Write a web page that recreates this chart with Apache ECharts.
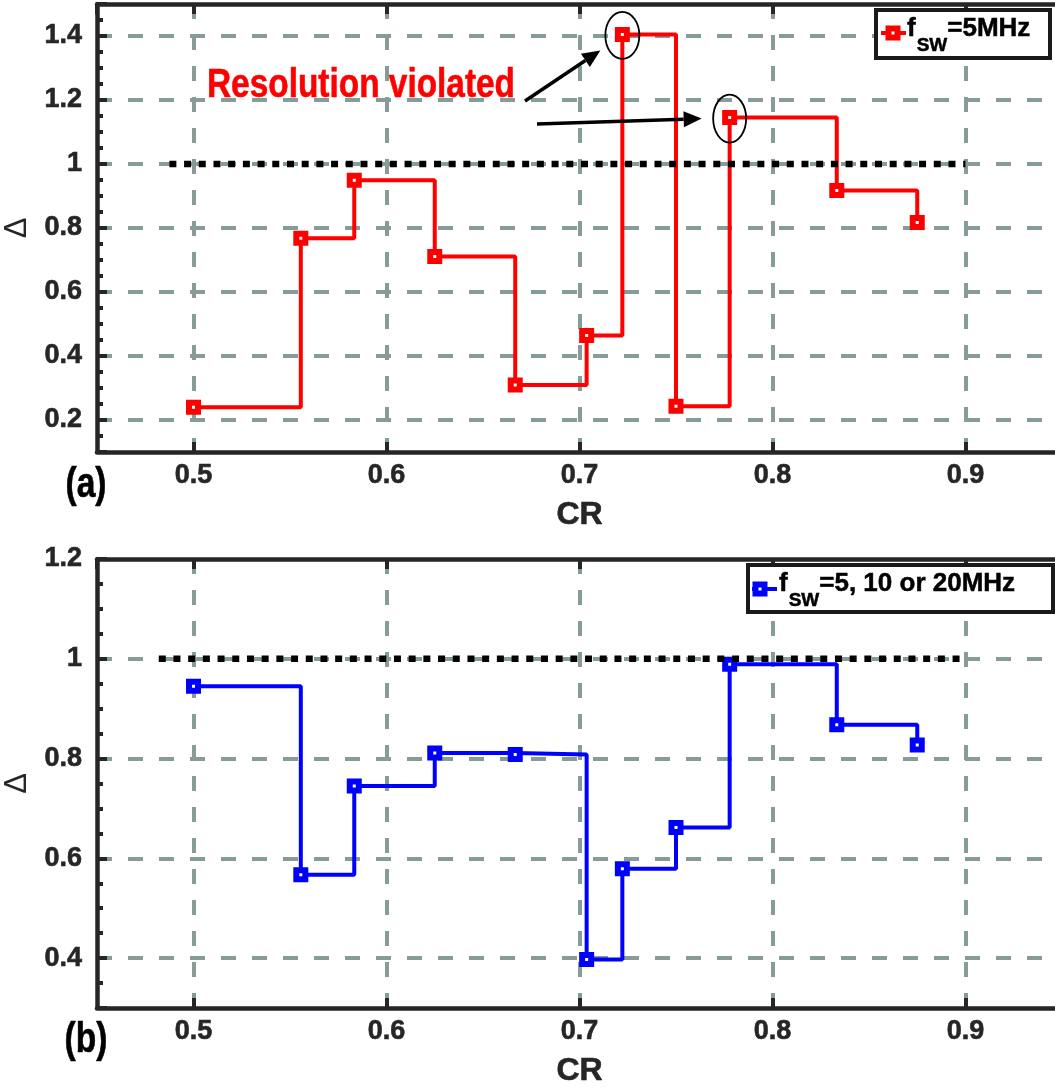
<!DOCTYPE html>
<html>
<head>
<meta charset="utf-8">
<script src="https://cdn.jsdelivr.net/npm/echarts@6/dist/echarts.min.js"></script>
<style>
  html, body { margin: 0; padding: 0; background: #fff; overflow: hidden; }
  #chart { width: 1064px; height: 1090px; }
</style>
</head>
<body>
<div id="chart"></div>
<script>
// Conversion ratio (CR) values shared by both panels
const crValues = [0.5, 0.5556, 0.5833, 0.625, 0.6667, 0.7037, 0.7222, 0.75, 0.7778, 0.8333, 0.875];
// Panel (a): fSW = 5 MHz
const deltaA = [0.24, 0.768, 0.949, 0.711, 0.309, 0.464, 1.405, 0.243, 1.145, 0.917, 0.817];
// Panel (b): fSW = 5, 10 or 20 MHz
const deltaB = [0.945, 0.567, 0.745, 0.811, 0.808, 0.397, 0.579, 0.662, 0.989, 0.868, 0.827];
// Resolution limit (Δ = 1) reference lines
const limitValue = 1;
const limitSpanA = [0.4875, 0.9];
const limitSpanB = [0.482, 0.9];
// Axis ranges
const crRange = [0.45, 0.95];
const deltaRangeA = [0.1, 1.5];
const deltaRangeB = [0.3, 1.2];
// Text
const panelLabels = ['(a)', '(b)'];
const legendA = { main: 'f', sub: 'SW', rest: '=5MHz' };
const legendB = { main: 'f', sub: 'SW', rest: '=5, 10 or 20MHz' };
const annotationText = 'Resolution violated';
// Points where the resolution limit is exceeded (indices into panel (a))
const violatedIdx = [6, 8];

const FONT = '"Liberation Sans", Arial, Helvetica, sans-serif';
const INK = '#262626';
const GRID_COLOR = '#879b99';
const RED = '#ff0000';
const BLUE = '#0000ff';

const chart = echarts.init(document.getElementById('chart'), null, { renderer: 'canvas' });

const grids = [
  { left: 97, top: 4, width: 965, height: 448, outerBoundsMode: 'none', containLabel: false },
  { left: 97, top: 559, width: 965, height: 449, outerBoundsMode: 'none', containLabel: false }
];

const labelStyle = { fontFamily: FONT, fontWeight: 'bold', fontSize: 27, color: INK,
  textBorderColor: INK, textBorderWidth: 0.6 };

function bottomX(gridIndex) {
  return {
    type: 'value', gridIndex, position: 'bottom',
    min: crRange[0], max: crRange[1], splitNumber: 5,
    name: 'CR', nameLocation: 'middle', nameGap: 47,
    nameTextStyle: { fontFamily: FONT, fontWeight: 'bold', fontSize: 32, color: INK,
      textBorderColor: INK, textBorderWidth: 0.6 },
    axisLine: { show: true, onZero: false, lineStyle: { color: INK, width: 4.5 } },
    axisTick: { show: true, inside: true, length: 10, lineStyle: { color: INK, width: 4 } },
    axisLabel: Object.assign({ show: true, margin: 10, showMinLabel: false, showMaxLabel: false }, labelStyle),
    splitLine: { show: true, showMinLine: false, showMaxLine: false,
      lineStyle: { color: GRID_COLOR, width: 4, type: [15, 16] } }
  };
}
function topX(gridIndex) {
  return {
    type: 'value', gridIndex, position: 'top',
    min: crRange[0], max: crRange[1], splitNumber: 5,
    axisLine: { show: true, onZero: false, lineStyle: { color: INK, width: 4.5 } },
    axisTick: { show: true, inside: true, length: 10, lineStyle: { color: INK, width: 4 } },
    axisLabel: { show: false },
    splitLine: { show: false }
  };
}
function leftY(gridIndex, range, splitNumber) {
  return {
    type: 'value', gridIndex, position: 'left',
    min: range[0], max: range[1], splitNumber,
    name: 'Δ', nameLocation: 'middle', nameGap: 61, nameRotate: 90,
    nameTextStyle: { fontFamily: FONT, fontWeight: 'normal', fontSize: 31, color: INK },
    axisLine: { show: true, onZero: false, lineStyle: { color: INK, width: 4.5 } },
    axisTick: { show: true, inside: true, length: 10, lineStyle: { color: INK, width: 4 } },
    minorTick: { show: true, splitNumber: 4, length: 6, lineStyle: { color: INK, width: 4 } },
    axisLabel: Object.assign({ show: true, margin: 15, showMinLabel: false, showMaxLabel: gridIndex === 1 }, labelStyle),
    splitLine: { show: true, showMinLine: false, showMaxLine: false,
      lineStyle: { color: GRID_COLOR, width: 4, type: [15, 16] } }
  };
}

function stairSeries(name, deltas, color, xi, yi) {
  return {
    name, type: 'line', step: 'end', xAxisIndex: xi, yAxisIndex: yi, z: 3,
    data: crValues.map((c, i) => [c, deltas[i]]),
    symbol: 'rect', symbolSize: 9, showAllSymbol: true,
    itemStyle: { color: '#ffffff', borderColor: color, borderWidth: 6 },
    lineStyle: { color, width: 4 },
    emphasis: { disabled: true }, animation: false
  };
}
function limitSeries(span, xi, yi) {
  return {
    type: 'line', xAxisIndex: xi, yAxisIndex: yi, z: 4, symbol: 'none',
    data: [[span[0], limitValue], [span[1], limitValue]],
    lineStyle: { color: '#000', width: 6.5, type: [7, 7.7], cap: 'butt' },
    emphasis: { disabled: true }, animation: false
  };
}

chart.setOption({
  animation: false,
  grid: grids,
  xAxis: [bottomX(0), topX(0), bottomX(1), topX(1)],
  yAxis: [leftY(0, deltaRangeA, 7), leftY(1, deltaRangeB, 5)],
  series: [
    stairSeries('a', deltaA, RED, 0, 0),
    limitSeries(limitSpanA, 0, 0),
    stairSeries('b', deltaB, BLUE, 2, 1),
    limitSeries(limitSpanB, 2, 1)
  ]
});

// ---- overlay: legends, panel tags, annotation ----
const measureCtx = document.createElement('canvas').getContext('2d');
function textW(str, size, weight) {
  measureCtx.font = weight + ' ' + size + 'px ' + FONT;
  return measureCtx.measureText(str).width;
}
// y of an em-box middle for a given alphabetic baseline
function midFromBaseline(base, size) { return base - 0.3465 * size; }

function legendBox(box, color, parts) {
  const els = [];
  els.push({ type: 'rect', shape: { x: box.x, y: box.y, width: box.w, height: box.h },
    style: { fill: '#fff', stroke: '#1a1a1a', lineWidth: 4 }, z: 10 });
  els.push({ type: 'line', shape: { x1: box.lineX0, y1: box.midY, x2: box.lineX1, y2: box.midY },
    style: { stroke: color, lineWidth: 4 }, z: 11 });
  els.push({ type: 'rect', shape: { x: box.markX - 4.5, y: box.midY - 4.5, width: 9, height: 9 },
    style: { fill: '#fff', stroke: color, lineWidth: 6 }, z: 12 });
  const fs = 26, subFs = 19;
  const txt = (text, x, y, size) => ({ type: 'text', x, y: midFromBaseline(y, size), z: 12,
    style: { text, font: 'bold ' + size + 'px ' + FONT, fill: '#000', verticalAlign: 'middle',
      stroke: '#000', lineWidth: 0.5 } });
  let x = box.textX;
  els.push(txt(parts.main, x, box.baseY, fs));
  x += textW(parts.main, fs, 'bold') + 1;
  els.push(txt(parts.sub, x, box.baseY + 14, subFs));
  x += textW(parts.sub, subFs, 'bold');
  els.push(txt(parts.rest, x, box.baseY, fs));
  return els;
}

function arrow(tail, tip, headLen, headHalf) {
  const dx = tip[0] - tail[0], dy = tip[1] - tail[1];
  const len = Math.hypot(dx, dy);
  const ux = dx / len, uy = dy / len;
  const bx = tip[0] - ux * headLen, by = tip[1] - uy * headLen;
  return [
    { type: 'line', shape: { x1: tail[0], y1: tail[1], x2: bx, y2: by },
      style: { stroke: '#000', lineWidth: 3.5 }, z: 10 },
    { type: 'polygon', shape: { points: [tip, [bx - uy * headHalf, by + ux * headHalf], [bx + uy * headHalf, by - ux * headHalf]] },
      style: { fill: '#000' }, z: 10 }
  ];
}

const p1 = chart.convertToPixel({ xAxisIndex: 0, yAxisIndex: 0 }, [crValues[violatedIdx[0]], deltaA[violatedIdx[0]]]);
const p2 = chart.convertToPixel({ xAxisIndex: 0, yAxisIndex: 0 }, [crValues[violatedIdx[1]], deltaA[violatedIdx[1]]]);

const overlay = [];
overlay.push({ type: 'ellipse', shape: { cx: p1[0], cy: p1[1] + 1, rx: 17, ry: 23.5 },
  style: { fill: 'none', stroke: '#000', lineWidth: 1.8 }, z: 10 });
overlay.push({ type: 'ellipse', shape: { cx: p2[0], cy: p2[1] + 1, rx: 16.5, ry: 24 },
  style: { fill: 'none', stroke: '#000', lineWidth: 1.8 }, z: 10 });
overlay.push(...arrow([525, 101], [p1[0] - 22, p1[1] + 16], 18, 8));
overlay.push(...arrow([537, 124], [p2[0] - 28, p2[1] + 1], 18, 8));
overlay.push({ type: 'text', x: 361, y: 86, scaleX: 0.835, z: 10,
  style: { text: annotationText, font: 'bold 40px ' + FONT, fill: RED, align: 'center', verticalAlign: 'middle',
    stroke: RED, lineWidth: 0.6 } });

const tagStyle = (text) => ({ text, font: 'bold 42px ' + FONT, fill: '#000', align: 'center', verticalAlign: 'middle',
  stroke: '#000', lineWidth: 0.6 });
overlay.push({ type: 'text', x: 86, y: 485, scaleX: 0.8, z: 10, style: tagStyle(panelLabels[0]) });
overlay.push({ type: 'text', x: 86, y: 1040, scaleX: 0.8, z: 10, style: tagStyle(panelLabels[1]) });

overlay.push(...legendBox({ x: 876, y: 10, w: 174, h: 48, midY: 33, lineX0: 881, lineX1: 906, markX: 893,
  textX: 907, baseY: 38 }, RED, legendA));
overlay.push(...legendBox({ x: 748, y: 565, w: 305, h: 47, midY: 589, lineX0: 752, lineX1: 777, markX: 760,
  textX: 779, baseY: 593 }, BLUE, legendB));

chart.setOption({ graphic: { elements: overlay } });
</script>
</body>
</html>
